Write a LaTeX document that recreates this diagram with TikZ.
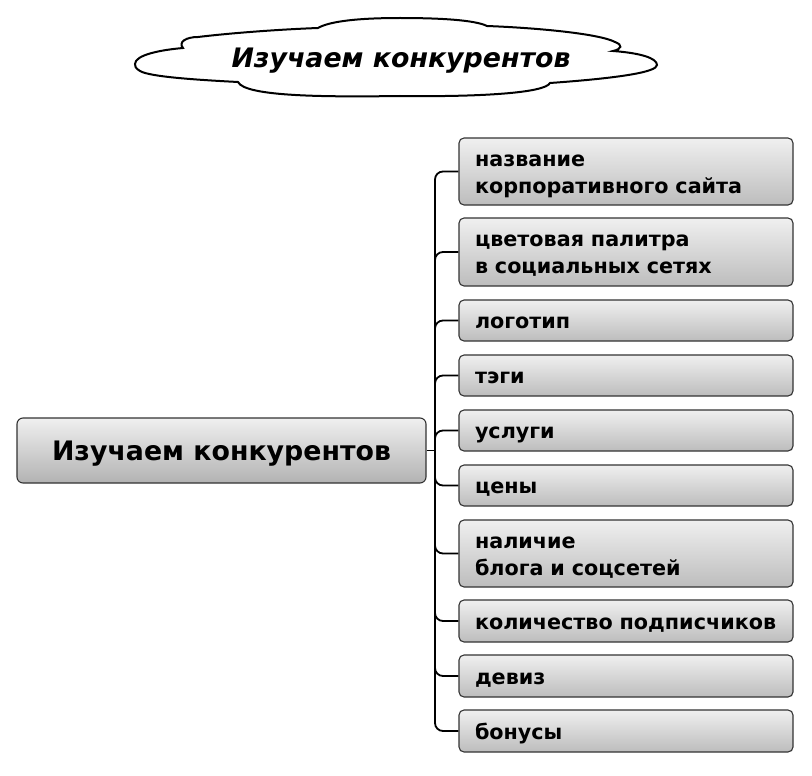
\documentclass[tikz,border=0pt]{standalone}
\usepackage{fontspec}
\setmainfont{DejaVu Sans}
\begin{document}
\begin{tikzpicture}[x=1pt,y=-1pt,
  item/.style={draw=black!80, line width=1.1pt, rounded corners=5pt,
    top color=black!6, bottom color=black!26, anchor=center,
    minimum width=334pt, inner xsep=16pt, inner ysep=0pt,
    text width=302pt, align=left,
    font=\fontsize{20.7}{27}\selectfont\bfseries},
  one/.style={item, minimum height=41pt, text height=21pt, text depth=5pt},
  two/.style={item, minimum height=67pt, text height=21pt, text depth=32pt},
  mainbox/.style={draw=black!80, line width=1.1pt, rounded corners=6pt,
    top color=black!6, bottom color=black!30,
    minimum width=409pt, minimum height=65pt, inner sep=0pt,
    text height=26pt, text depth=6pt,
    font=\fontsize{26.8}{30}\selectfont\bfseries},
  conn/.style={line width=1.8pt, black},
  cloudline/.style={line width=2pt, black, fill=white}
]
\useasboundingbox (0,0) rectangle (812,776);

% cloud
\draw[cloudline] (135,64)
  .. controls (135,55) and (160,50) .. (183,48)
  .. controls (178,42) and (186,37) .. (198,37)
  .. controls (240,32) and (290,29) .. (318,28)
  .. controls (330,21) and (360,18) .. (400,18)
  .. controls (440,18) and (475,20) .. (487,26)
  .. controls (540,28) and (600,34) .. (615,42)
  .. controls (623,45) and (622,49) .. (613,51)
  .. controls (640,53) and (657,58) .. (657,65)
  .. controls (657,72) and (620,78) .. (550,83)
  .. controls (545,93) and (480,97) .. (400,96)
  .. controls (330,97) and (245,97) .. (238,82)
  .. controls (200,80) and (150,77) .. (140,71)
  .. controls (135,68) and (135,66) .. (135,64) -- cycle;
\node[anchor=base, inner sep=0pt, font=\fontsize{26.8}{30}\selectfont\bfseries\itshape] (title) at (401,68) {Изучаем конкурентов};

% main
\node[mainbox] (m) at (221.5,450.5) {Изучаем конкурентов};

% items
\node[two] (b1) at (626,171.5) {название\\корпоративного сайта};
\node[two, minimum height=68pt] (b2) at (626,252) {цветовая палитра\\в социальных сетях};
\node[one] (b3) at (626,320.5) {логотип};
\node[one] (b4) at (626,375.5) {тэги};
\node[one] (b5) at (626,430.5) {услуги};
\node[one] (b6) at (626,485.5) {цены};
\node[two] (b7) at (626,553.5) {наличие\\блога и соцсетей};
\node[one, minimum height=42pt] (b8) at (626,621) {количество подписчиков};
\node[one, minimum height=42pt] (b9) at (626,676) {девиз};
\node[one, minimum height=42pt] (b10) at (626,731) {бонусы};

% connectors
\coordinate (jc) at (435,450.5);
\draw[conn] (m.east) -- (jc);
\foreach \b in {b1,b2,b3,b4,b5,b6,b7,b8,b9,b10}
  \draw[conn, rounded corners=8pt] (jc) |- (\b.west);
\end{tikzpicture}
\end{document}
